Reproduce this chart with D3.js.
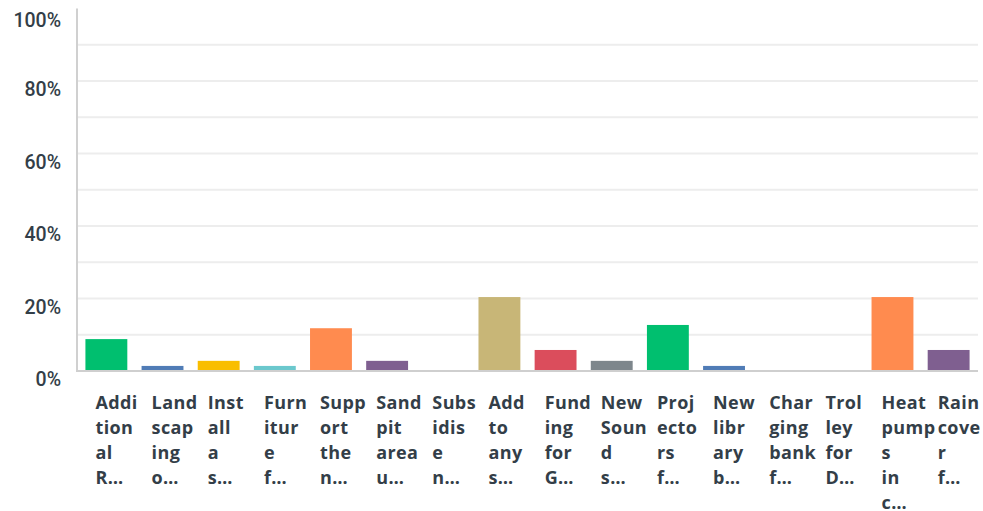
<!DOCTYPE html>
<html>
<head>
<meta charset="utf-8">
<script src="https://cdn.jsdelivr.net/npm/d3@7/dist/d3.min.js"></script>
<style>
  html, body { margin: 0; padding: 0; background: #ffffff; }
  svg { display: block; }
</style>
</head>
<body>
<svg id="chart" width="983" height="511"></svg>
<script>
// ---- data ----
const categories = [
  "Additional R...", "Landscaping o...", "Install a s...", "Furniture f...",
  "Support the n...", "Sand pit area u...", "Subsidise n...", "Add to any s...",
  "Funding for G...", "New Sound s...", "Projectors f...", "New library b...",
  "Charging bank f...", "Trolley for D...", "Heat pumps in c...", "Rain cover f..."
];
const labelLines = [
  ["Addi","tion","al","R…"],
  ["Land","scap","ing","o…"],
  ["Inst","all","a","s…"],
  ["Furn","itur","e","f…"],
  ["Supp","ort","the","n…"],
  ["Sand","pit","area","u…"],
  ["Subs","idis","e","n…"],
  ["Add","to","any","s…"],
  ["Fund","ing","for","G…"],
  ["New","Soun","d","s…"],
  ["Proj","ecto","rs","f…"],
  ["New","libr","ary","b…"],
  ["Char","ging","bank","f…"],
  ["Trol","ley","for","D…"],
  ["Heat","pump","s","in","c…"],
  ["Rain","cove","r","f…"]
];
const values = [8.8, 1.4, 2.8, 1.4, 11.8, 2.8, 0, 20.4, 5.8, 2.8, 12.7, 1.4, 0, 0, 20.4, 5.8];
const palette = ["#00bf6f","#507cb6","#f9be00","#6bc8cd","#ff8b4f","#7f5f90","#d25f90","#c8b677","#db4d5c","#7d868c"];
const yTicks = [0, 20, 40, 60, 80, 100];
const gridTicks = [10, 20, 30, 40, 50, 60, 70, 80, 90];

// ---- layout ----
const svg = d3.select("#chart");
const mLeft = 77, mRight = 978, mTop = 8.5, mBottom = 371;

const x = d3.scaleBand()
  .domain(d3.range(categories.length))
  .range([mLeft, mRight])
  .paddingInner(0.254)
  .paddingOuter(0.15);

const y = d3.scaleLinear().domain([0, 100]).range([mBottom, mTop]);

const textColor = "#333e48";

// gridlines
svg.append("g")
  .selectAll("line")
  .data(gridTicks)
  .join("line")
  .attr("x1", mLeft)
  .attr("x2", mRight)
  .attr("y1", d => y(d))
  .attr("y2", d => y(d))
  .attr("stroke", "#ededed")
  .attr("stroke-width", 2);

// bars
svg.append("g")
  .selectAll("rect")
  .data(values)
  .join("rect")
  .attr("x", (d, i) => x(i))
  .attr("width", x.bandwidth())
  .attr("y", d => y(d))
  .attr("height", d => y(0) - y(d))
  .attr("fill", (d, i) => palette[i % palette.length]);

// y axis line
svg.append("line")
  .attr("x1", mLeft).attr("x2", mLeft)
  .attr("y1", mTop).attr("y2", mBottom + 1)
  .attr("stroke", "#d0d0d0").attr("stroke-width", 2);

// baseline
svg.append("line")
  .attr("x1", mLeft - 1).attr("x2", mRight)
  .attr("y1", y(0)).attr("y2", y(0))
  .attr("stroke", "#cfcfcf").attr("stroke-width", 2);

// y tick labels
svg.append("g")
  .selectAll("text")
  .data(yTicks)
  .join("text")
  .attr("x", 61)
  .attr("y", d => Math.max(y(d) + 15, 26.5))
  .attr("text-anchor", "end")
  .attr("fill", textColor)
  .style("font-family", "Roboto, 'Open Sans', sans-serif")
  .style("font-weight", 500)
  .style("font-size", "19.5px")
  .text(d => d + "%");

// x labels (wrapped)
const xl = svg.append("g")
  .selectAll("text")
  .data(labelLines)
  .join("text")
  .attr("fill", textColor)
  .style("font-family", "'Open Sans', sans-serif")
  .style("font-weight", 700)
  .style("font-size", "18px")
  .style("letter-spacing", "0.4px");

xl.each(function(lines, i) {
  const t = d3.select(this);
  lines.forEach((ln, k) => {
    t.append("tspan")
      .attr("x", x(i) + 10)
      .attr("y", 409 + k * 25)
      .text(ln);
  });
});
</script>
</body>
</html>
